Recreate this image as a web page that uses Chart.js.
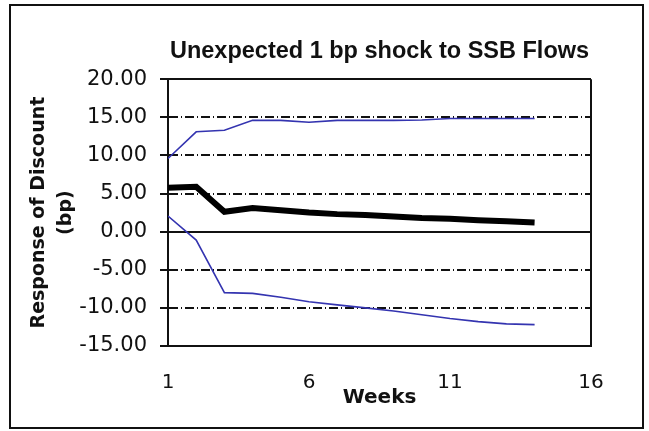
<!DOCTYPE html>
<html>
<head>
<meta charset="utf-8">
<script src="https://cdn.jsdelivr.net/npm/chart.js@4.4.0/dist/chart.umd.min.js"></script>
<style>
  body { margin: 0; background: #fff; }
  #wrap { position: relative; width: 649px; height: 431px; }
  #frame { position: absolute; left: 9px; top: 4px; width: 631px; height: 421px; border: 2px solid #111; }
  canvas { position: absolute; left: 0; top: 0; }
</style>
</head>
<body>
<div id="wrap">
  <div id="frame"></div>
  <canvas id="myChart" width="649" height="431"></canvas>
</div>
<script>
var weeks = [1, 2, 3, 4, 5, 6, 7, 8, 9, 10, 11, 12, 13, 14];
var response = [5.75, 5.9, 2.6, 3.1, 2.8, 2.5, 2.3, 2.2, 2.0, 1.8, 1.7, 1.5, 1.35, 1.2];
var upperBand = [9.6, 13.1, 13.3, 14.6, 14.6, 14.35, 14.6, 14.6, 14.6, 14.65, 14.85, 14.85, 14.85, 14.85];
var lowerBand = [2.05, -1.1, -8.0, -8.1, -8.6, -9.2, -9.6, -10.0, -10.4, -10.9, -11.4, -11.8, -12.1, -12.2];
var xTicks = [1, 6, 11, 16];
var yTicks = [-15, -10, -5, 0, 5, 10, 15, 20];
var solidLines = [20, 0, -15];

function points(values) {
    return weeks.map(function (w, i) { return { x: w, y: values[i] }; });
}

var ink = '#111';
var blue = '#3434b0';

var ctx = document.getElementById('myChart');
var myChart = new Chart(ctx, {
    type: 'line',
    data: {
        datasets: [
            {
                label: 'Response',
                data: points(response),
                borderColor: '#000',
                borderWidth: 6,
                pointRadius: 0,
                tension: 0
            },
            {
                label: 'Upper',
                data: points(upperBand),
                borderColor: blue,
                borderWidth: 1.6,
                pointRadius: 0,
                tension: 0
            },
            {
                label: 'Lower',
                data: points(lowerBand),
                borderColor: blue,
                borderWidth: 1.6,
                pointRadius: 0,
                tension: 0
            }
        ]
    },
    options: {
        responsive: false,
        animation: false,
        devicePixelRatio: 1,
        layout: { padding: { left: 0, right: 58, top: 0, bottom: 0 } },
        plugins: {
            legend: { display: false },
            tooltip: { enabled: false },
            title: { display: false }
        },
        scales: {
            x: {
                type: 'linear',
                position: 'bottom',
                min: 1,
                max: 16,
                afterBuildTicks: function (scale) {
                    scale.ticks = xTicks.map(function (v) { return { value: v }; });
                },
                ticks: {
                    font: { family: 'DejaVu Sans', size: 20 },
                    color: ink,
                    padding: 25,
                    maxRotation: 0,
                    autoSkip: false
                },
                grid: {
                    color: function (c) {
                        return c.tick && c.tick.value === 16 ? ink : 'transparent';
                    },
                    lineWidth: 2,
                    drawTicks: false
                },
                border: { display: true, color: ink, width: 2 },
                title: {
                    display: true,
                    text: 'Weeks',
                    color: ink,
                    font: { family: 'DejaVu Sans', size: 20, weight: 'bold' },
                    padding: { top: -34, bottom: 21 }
                }
            },
            x2: {
                type: 'linear',
                position: 'top',
                grid: { display: false, drawTicks: false },
                border: { display: false },
                ticks: { display: false },
                title: {
                    display: true,
                    text: 'Unexpected 1 bp shock to SSB Flows',
                    color: ink,
                    font: { family: 'Liberation Sans', size: 23.5, weight: 'bold' },
                    padding: { top: 37, bottom: 14 }
                }
            },
            y: {
                type: 'linear',
                min: -15,
                max: 20,
                afterBuildTicks: function (scale) {
                    scale.ticks = yTicks.map(function (v) { return { value: v }; });
                },
                afterFit: function (scale) {
                    scale.width = 168;
                },
                ticks: {
                    font: { family: 'DejaVu Sans', size: 21 },
                    color: ink,
                    padding: 13,
                    callback: function (v) { return Number(v).toFixed(2); }
                },
                grid: {
                    color: ink,
                    lineWidth: 2,
                    tickLength: 8,
                    tickColor: ink,
                    tickWidth: 2
                },
                border: {
                    display: true,
                    color: ink,
                    width: 2,
                    dash: function (c) {
                        if (!c.tick) return [];
                        return solidLines.indexOf(c.tick.value) >= 0 ? [] : [9, 3, 1, 3];
                    }
                },
                title: {
                    display: true,
                    text: ['Response of Discount', '(bp)'],
                    color: ink,
                    font: { family: 'DejaVu Sans', size: 19, weight: 'bold', lineHeight: 1.42 },
                    padding: { top: 26, bottom: 0 }
                }
            }
        }
    }
});
</script>
</body>
</html>
